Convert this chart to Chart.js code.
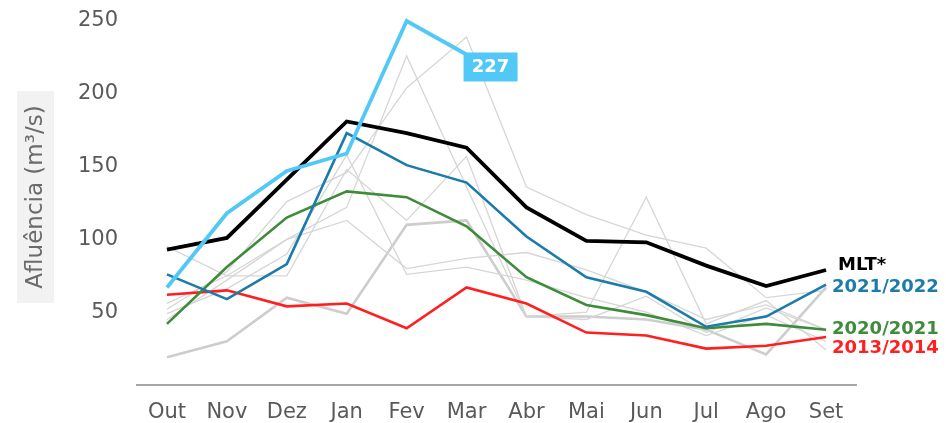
<!DOCTYPE html>
<html>
<head>
<meta charset="utf-8">
<script src="https://cdn.jsdelivr.net/npm/chart.js@4.4.1/dist/chart.umd.min.js"></script>
<style>
html,body{margin:0;padding:0;background:#fff;}
#wrap{width:946px;height:423px;position:relative;}
</style>
</head>
<body>
<div id="wrap"><canvas id="c" width="946" height="423"></canvas></div>
<script>
const months = ['Out','Nov','Dez','Jan','Fev','Mar','Abr','Mai','Jun','Jul','Ago','Set'];
const yTicks = [50,100,150,200,250];
const yTitle = 'Afluência (m³/s)';

const current = [67,118,147,159,250,227,null,null,null,null,null,null];
const currentLabel = '227';
const mlt = [93,101,141,181,173,163,122,99,98,82,68,79];
const s2021_2022 = [76,59,83,173,151,139,102,74,64,40,47,69];
const s2020_2021 = [42,81,115,133,129,109,74,55,48,39,42,38];
const s2013_2014 = [62,65,54,56,39,67,56,36,34,25,27,33];

const greyThick = [19,30,60,49,110,113,47,47,45,38,21,67];
const grey1 = [52,78,126,146,204,239,136,117,103,94,60,65];
const grey2 = [45,72,100,122,226,136,47,50,129,42,58,24];
const grey3 = [56,75,100,113,80,87,91,79,64,45,55,38];
const grey4 = [95,75,75,148,113,157,47,45,61,36,53,38];
const grey5 = [49,66,90,158,76,81,72,60,50,34,48,30];

const FONT = "'DejaVu Sans', Verdana, sans-serif";

function line(data, color, width, label){
  return {label, data, borderColor:color, borderWidth:width, pointRadius:0, tension:0, fill:false, spanGaps:false, clip:false};
}

const datasets = [
  line(current,'#52c8f7',3.8,'current'),
  line(mlt,'#000000',3.8,'MLT*'),
  line(s2021_2022,'#1b7bab',2.6,'2021/2022'),
  line(s2020_2021,'#3e8b3a',2.6,'2020/2021'),
  line(s2013_2014,'#ff1f1f',2.6,'2013/2014'),
  line(grey1,'#d6d6d6',1.3,'g1'),
  line(grey2,'#d6d6d6',1.3,'g2'),
  line(grey3,'#d6d6d6',1.3,'g3'),
  line(grey4,'#d6d6d6',1.3,'g4'),
  line(grey5,'#d6d6d6',1.3,'g5'),
  line(greyThick,'#cdcdcd',2.6,'gThick')
];

const endLabels = [
  {idx:1, text:'MLT*', color:'#000000', dx:12, dy:-5},
  {idx:2, text:'2021/2022', color:'#1b7bab', dx:6, dy:3},
  {idx:3, text:'2020/2021', color:'#3e8b3a', dx:6, dy:0},
  {idx:4, text:'2013/2014', color:'#ff1f1f', dx:6, dy:11}
];

const annot = {
  id:'annot',
  beforeDraw(chart){
    const ctx = chart.ctx;
    ctx.save();
    ctx.fillStyle = '#f2f2f2';
    ctx.fillRect(17, 91, 37, 212);
    ctx.translate(36, 197);
    ctx.rotate(-Math.PI/2);
    ctx.fillStyle = '#6b6b6b';
    ctx.font = "23px " + FONT;
    ctx.textAlign = 'center';
    ctx.textBaseline = 'middle';
    ctx.fillText(yTitle, 0, 0);
    ctx.restore();
  },
  afterDatasetsDraw(chart){
    const ctx = chart.ctx;
    const xs = chart.scales.x, ys = chart.scales.y;
    ctx.save();
    ctx.font = "bold 18px " + FONT;
    ctx.textAlign = 'left';
    ctx.textBaseline = 'middle';
    endLabels.forEach(l => {
      const d = chart.data.datasets[l.idx].data;
      const i = d.length - 1;
      const x = xs.getPixelForValue(i);
      const y = ys.getPixelForValue(d[i]);
      ctx.fillStyle = l.color;
      ctx.fillText(l.text, x + l.dx, y + l.dy);
    });
    const ci = 5;
    const px = xs.getPixelForValue(ci);
    const py = ys.getPixelForValue(current[ci]);
    ctx.fillStyle = '#52c8f7';
    ctx.fillRect(px - 3, py - 2, 54, 29);
    ctx.fillStyle = '#ffffff';
    ctx.font = "bold 18px " + FONT;
    ctx.textAlign = 'center';
    ctx.fillText(currentLabel, px + 24, py + 13);
    ctx.restore();
  }
};

new Chart(document.getElementById('c'), {
  type:'line',
  data:{labels:months, datasets},
  options:{
    responsive:false,
    animation:false,
    layout:{padding:{left:0, right:90, top:21, bottom:0}},
    plugins:{legend:{display:false}, tooltip:{enabled:false}},
    scales:{
      x:{
        offset:true,
        grid:{display:false, drawTicks:false},
        border:{display:true, color:'#a6a6a6', width:2},
        ticks:{color:'#595959', font:{family:FONT, size:21}, padding:15, maxRotation:0},
        afterFit(a){ a.height = 38; a.paddingLeft = 0; a.paddingRight = 0; }
      },
      y:{
        min:0, max:250,
        afterBuildTicks(a){ a.ticks = yTicks.map(v => ({value:v})); },
        grid:{display:false, drawTicks:false},
        border:{display:false},
        ticks:{color:'#595959', font:{family:FONT, size:21}, padding:19},
        afterFit(a){ a.width = 137; a.paddingTop = 0; a.paddingBottom = 0; }
      }
    }
  },
  plugins:[annot]
});
</script>
</body>
</html>
